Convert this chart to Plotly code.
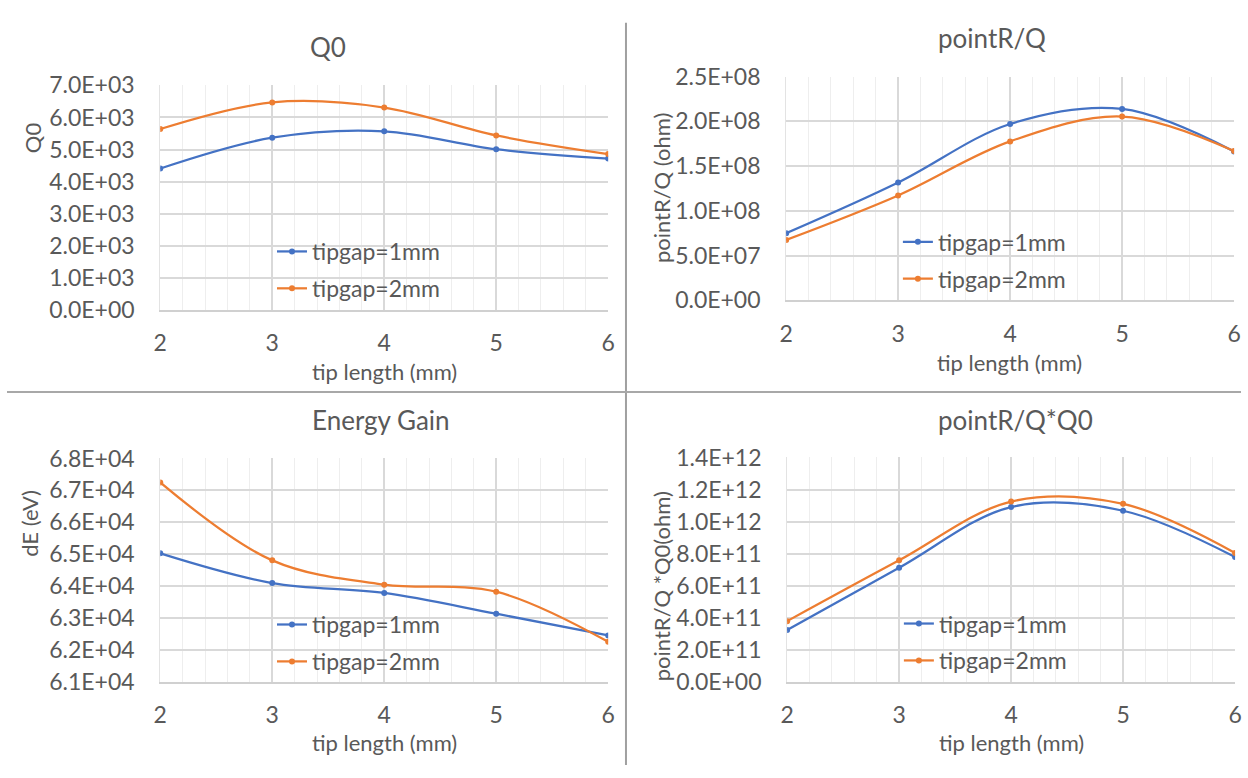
import plotly.graph_objects as go

# ---------------- data ----------------
tip_length = [2, 3, 4, 5, 6]

q0_gap1 = [4410, 5370, 5570, 5010, 4720]
q0_gap2 = [5640, 6470, 6310, 5440, 4860]

rq_gap1 = [7.5e7, 1.317e8, 1.971e8, 2.14e8, 1.665e8]
rq_gap2 = [6.76e7, 1.173e8, 1.777e8, 2.054e8, 1.669e8]

de_gap1 = [6.503e4, 6.410e4, 6.379e4, 6.314e4, 6.246e4]
de_gap2 = [6.725e4, 6.481e4, 6.405e4, 6.383e4, 6.226e4]

rqq0_gap1 = [3.25e11, 7.13e11, 1.091e12, 1.068e12, 7.79e11]
rqq0_gap2 = [3.80e11, 7.59e11, 1.125e12, 1.111e12, 8.05e11]

series_names = ["tipgap=1mm", "tipgap=2mm"]

titles = ["Q0", "pointR/Q", "Energy Gain", "pointR/Q*Q0"]
y_titles = ["Q0", "pointR/Q (ohm)", "dE (eV)", "pointR/Q *Q0(ohm)"]
x_title = "tip length (mm)"

y_ticks_q0 = [0, 1000, 2000, 3000, 4000, 5000, 6000, 7000]
y_ticks_rq = [0, 5e7, 1e8, 1.5e8, 2e8, 2.5e8]
y_ticks_de = [6.1e4, 6.2e4, 6.3e4, 6.4e4, 6.5e4, 6.6e4, 6.7e4, 6.8e4]
y_ticks_rqq0 = [0, 2e11, 4e11, 6e11, 8e11, 1e12, 1.2e12, 1.4e12]

# ---------------- style ----------------
W, H = 1248, 778
BLUE = "#4472C4"
ORANGE = "#ED7D31"
TXT = "#595959"
FONT = "Lato"
TICK_SIZE = 23
LEG_SIZE = 23
AXT_SIZE = 22
TITLE_SIZE = 26

def px_x(p):
    return p / W

def px_y(p):
    return 1 - p / H

# plot-area pixel boxes: (left, right, top, bottom)
boxes = [
    (155, 608, 73, 306),
    (788, 1241, 64, 296),
    (155, 608, 460, 692),
    (789, 1242, 459, 692),
]
title_pos = [(325, 33), (996, 24), (378, 420), (1020, 420)]
ytitle_pos = [(26, 127), (662, 180), (22, 527), (662, 593)]
xtitle_pos = [(382, 370), (1014, 360), (382, 755), (1016, 755)]
legend_pos = [(268, 223), (901, 213), (268, 610), (902, 609)]

data_sets = [
    (q0_gap1, q0_gap2, y_ticks_q0),
    (rq_gap1, rq_gap2, y_ticks_rq),
    (de_gap1, de_gap2, y_ticks_de),
    (rqq0_gap1, rqq0_gap2, y_ticks_rqq0),
]

fig = go.Figure()
annotations = []
layout_extra = {}

for i, ((g1, g2, yt), box) in enumerate(zip(data_sets, boxes)):
    n = "" if i == 0 else str(i + 1)
    leg = "legend" if i == 0 else f"legend{i + 1}"
    for j, (vals, color) in enumerate(((g1, BLUE), (g2, ORANGE))):
        fig.add_trace(go.Scatter(
            x=tip_length, y=vals, name=series_names[j],
            mode="lines+markers",
            line=dict(color=color, width=2.25, shape="spline", smoothing=1.0),
            marker=dict(color=color, size=6, symbol="circle"),
            xaxis=f"x{n}", yaxis=f"y{n}", legend=leg,
            legendgroup=f"g{i}_{j}",
        ))
    l, r, t, b = box
    layout_extra[f"xaxis{n}"] = dict(
        domain=[px_x(l), px_x(r)], anchor=f"y{n}",
        range=[2, 6], tickvals=tip_length, ticktext=[str(v) for v in tip_length],
        showgrid=True, gridcolor="#D9D9D9", gridwidth=1.5,
        minor=dict(dtick=0.2, tick0=2, showgrid=True, gridcolor="#EEEEEE", gridwidth=1),
        showline=True, linecolor="#D0D0D0", linewidth=1.5,
        ticks="", ticklabelstandoff=12, zeroline=False,
        tickfont=dict(family=FONT, size=TICK_SIZE, color=TXT),
    )
    layout_extra[f"yaxis{n}"] = dict(
        domain=[px_y(b), px_y(t)], anchor=f"x{n}",
        range=[yt[0], yt[-1]], tickvals=yt, ticktext=[f"{v:.1E}" for v in yt],
        showgrid=True, gridcolor="#D9D9D9", gridwidth=1.5, zeroline=False,
        showline=True, linecolor="#E3E3E3", linewidth=1,
        ticks="", ticklabelstandoff=20,
        tickfont=dict(family=FONT, size=TICK_SIZE, color=TXT),
    )
    lx, ly = legend_pos[i]
    layout_extra[leg] = dict(
        x=px_x(lx), y=px_y(ly), xanchor="left", yanchor="top",
        bgcolor="rgba(0,0,0,0)", tracegroupgap=4, itemwidth=30,
        font=dict(family=FONT, size=LEG_SIZE, color=TXT),
    )
    tx, ty = title_pos[i]
    annotations.append(dict(text=titles[i], x=px_x(tx), y=px_y(ty), xref="paper", yref="paper",
                            showarrow=False, xanchor="center", yanchor="middle",
                            font=dict(family=FONT, size=TITLE_SIZE, color=TXT)))
    yx, yy = ytitle_pos[i]
    annotations.append(dict(text=y_titles[i], x=px_x(yx), y=px_y(yy), xref="paper", yref="paper",
                            showarrow=False, xanchor="center", yanchor="middle", textangle=-90,
                            font=dict(family=FONT, size=AXT_SIZE, color=TXT)))
    xx, xy = xtitle_pos[i]
    annotations.append(dict(text=x_title, x=px_x(xx), y=px_y(xy), xref="paper", yref="paper",
                            showarrow=False, xanchor="center", yanchor="middle",
                            font=dict(family=FONT, size=AXT_SIZE, color=TXT)))

shapes = [
    dict(type="line", xref="paper", yref="paper", x0=px_x(626), x1=px_x(626), y0=px_y(8), y1=0,
         line=dict(color="#A0A0A0", width=2)),
    dict(type="line", xref="paper", yref="paper", x0=0, x1=1, y0=px_y(391), y1=px_y(391),
         line=dict(color="#A8A8A8", width=2)),
]

fig.update_layout(
    width=W, height=H, margin=dict(l=0, r=0, t=0, b=0),
    paper_bgcolor="white", plot_bgcolor="white",
    annotations=annotations, shapes=shapes, showlegend=True,
    font=dict(family=FONT, color=TXT),
    **layout_extra,
)

fig.write_html("out.html")
